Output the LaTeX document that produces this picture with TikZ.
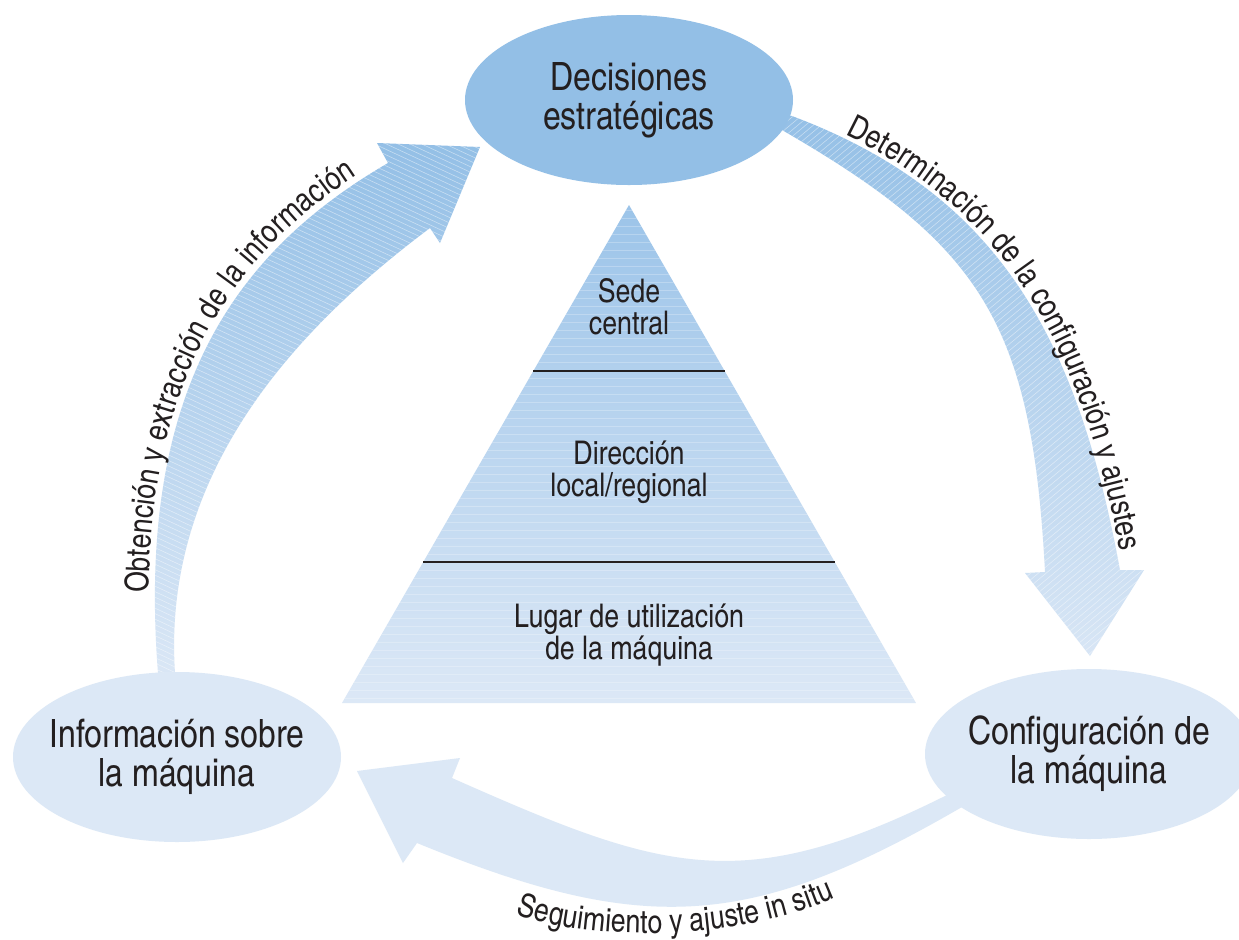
\documentclass[tikz,border=0pt]{standalone}
\usepackage{fontspec}
\setmainfont{texgyreheroscn-regular.otf}
\usetikzlibrary{shapes.geometric,decorations.text,calc}

\definecolor{deepblue}{RGB}{147,191,230}
\definecolor{paleblue}{RGB}{220,232,246}
\definecolor{pyrtop}{RGB}{156,196,233}
\definecolor{ink}{RGB}{35,31,32}

\newcommand\ellfont{\fontsize{19.5pt}{19.5pt}\selectfont}
\newcommand\lblfont{\fontsize{16.3pt}{16pt}\selectfont}

\begin{document}
\begin{tikzpicture}[x=0.5pt,y=-0.5pt,
  stage/.style={ellipse, minimum width=164pt, minimum height=85pt, inner sep=0pt},
  stagetext/.style={align=center, text=ink, font=\ellfont, inner sep=0pt},
  level/.style={align=center, text=ink, font=\lblfont, inner sep=0pt},
  hatch/.style={white, line width=0.3pt, opacity=0.45},
  divider/.style={ink, line width=1pt},
  flowtext/.style={decorate, decoration={text along path, text color=ink, #1}},
]
\fill[white] (0,0) rectangle (1239,939);
\useasboundingbox (0,0) rectangle (1239,939);

% ---------- pyramid ----------
\coordinate (apex) at (629,205);
\coordinate (bl) at (342,703);
\coordinate (br) at (916,703);
\begin{scope}
  \clip (apex) -- (br) -- (bl) -- cycle;
  \shade[top color=pyrtop, bottom color=paleblue] (342,205) rectangle (916,703);
  \foreach \y in {210,218,...,700}
    \draw[white, opacity=0.25, line width=0.4pt] (342,\y) -- (916,\y);
\end{scope}
\draw[divider] ($(apex)!1/3!(bl)$) -- ($(apex)!1/3!(br)$);
\draw[divider] ($(apex)!0.717!(bl)$) -- ($(apex)!0.717!(br)$);

\node[level] (sede)  at (629,307) {Sede\\central};
\node[level] (dir)   at (629,472) {Dirección\\local/regional};
\node[level] (lugar) at (629,635) {Lugar de utilización\\de la máquina};

% ---------- arrow: information -> decisions ----------
\begin{scope}
  \clip (160,690) -- (158,673) .. controls (136,393) and (233,253) .. (388,163)
        -- (377,143) -- (480,147) -- (440,243) -- (430,228)
        .. controls (310,318) and (161,463) .. (175,673) -- (176,690) -- cycle;
  \shade[top color=deepblue, bottom color=paleblue] (130,140) rectangle (490,692);
  \foreach \k in {-50,-44.5,...,690}
    \draw[hatch] (100,\k) -- (500,\k+186.5);
\end{scope}

% ---------- arrow: decisions -> configuration ----------
\begin{scope}
  \clip (760,110) -- (792,116) .. controls (997,193) and (1077,335) .. (1120,570)
        -- (1144,570) -- (1090,656) -- (1025,573) -- (1045,572)
        .. controls (1032,322) and (981,245) .. (782,130) -- (760,130) -- cycle;
  \shade[top color=deepblue, bottom color=paleblue!95!deepblue] (760,105) rectangle (1150,660);
  \foreach \k in {105,111.5,...,990}
    \draw[hatch] (760,\k) -- (1150,\k-327.6);
\end{scope}

% ---------- arrow: configuration -> information ----------
\fill[paleblue] (975,812) -- (962,807) .. controls (750,930) and (644,936) .. (417,843)
      -- (403,863) -- (357,771) -- (460,758) -- (452,778)
      .. controls (662,871) and (741,898) .. (947,795) -- (970,790) -- cycle;

% ---------- the three stages ----------
\node[stage, fill=deepblue] (dec)  at (629,100) {};
\node[stage, fill=paleblue] (info) at (177,757) {};
\node[stage, fill=paleblue] (conf) at (1089,754) {};
\node[stagetext] (dec-t)  at (dec)  {Decisiones\\estratégicas};
\node[stagetext] (info-t) at (info) {Información sobre\\la máquina};
\node[stagetext] (conf-t) at (conf) {Configuración de\\la máquina};

% ---------- labels along the arrows ----------
\path[flowtext={text={|\lblfont|Obtención y extracción de la información},
      text align={left indent=40pt}, raise=3pt}]
  (158,673) .. controls (136,393) and (233,253) .. (388,163);
\path[flowtext={text={|\lblfont|Determinación de la configuración y ajustes},
      text align={left indent=28pt}, raise=2pt}]
  (792,116) .. controls (997,193) and (1077,335) .. (1120,570);
\path[flowtext={text={|\lblfont|Seguimiento y ajuste in situ}, text align=center}]
  (505,910) .. controls (580,942) and (740,945) .. (845,893);
\end{tikzpicture}
\end{document}
